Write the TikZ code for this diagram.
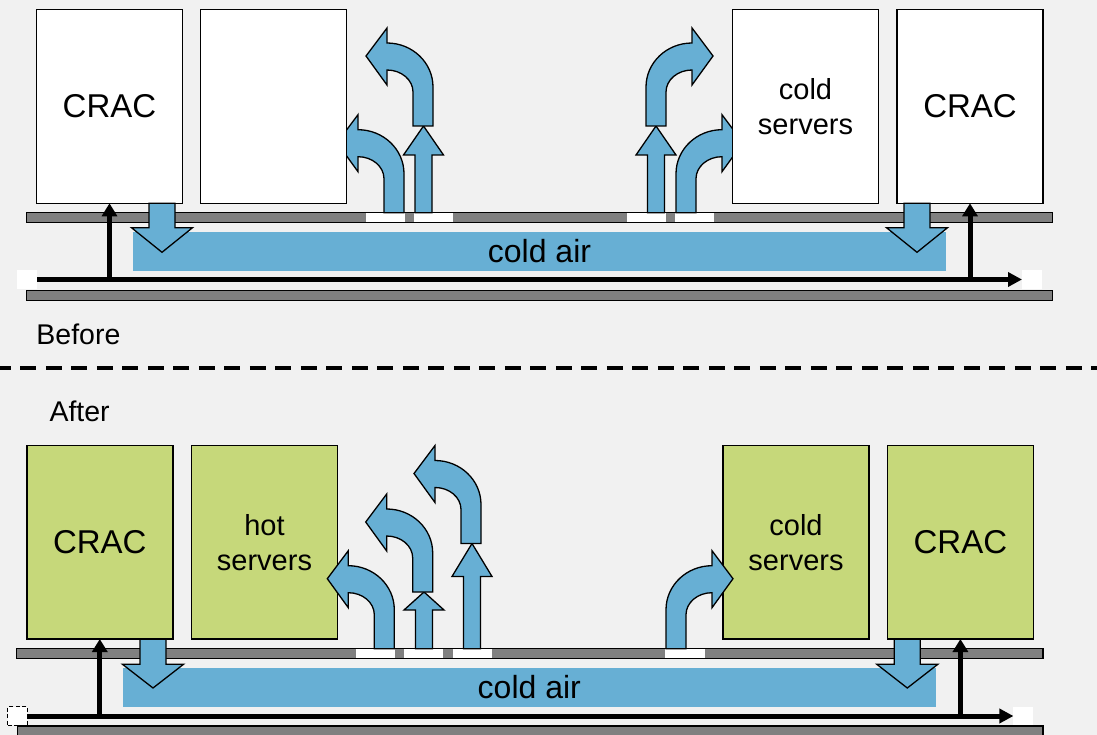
\documentclass[tikz,border=0pt]{standalone}
\usepackage{fontspec}
\setmainfont{Liberation Sans}
\usetikzlibrary{arrows.meta}
\definecolor{bgcol}{RGB}{241,241,241}
\definecolor{floorgrey}{RGB}{128,128,128}
\definecolor{airblue}{RGB}{103,175,212}
\definecolor{rackgreen}{RGB}{198,216,122}

\tikzset{
  box/.style={draw=black, line width=1.5pt, inner sep=0pt, outer sep=0pt,
    minimum width=146pt, minimum height=193.6pt, align=center},
  whitebox/.style={box, fill=white},
  greenbox/.style={box, fill=rackgreen},
  cractext/.style={font=\fontsize{33}{40}\selectfont},
  srvtext/.style={font=\fontsize{29}{35}\selectfont},
  labeltext/.style={font=\fontsize{28.5}{34}\selectfont, inner sep=0pt, anchor=base west},
  floorbar/.style={draw=black, line width=1.2pt, fill=floorgrey},
  vent/.style={fill=white},
  band/.style={fill=airblue, inner sep=0pt, outer sep=0pt,
    font=\fontsize{32}{38}\selectfont},
  blockarrow/.style={draw=black, line width=1.3pt, fill=airblue, line join=miter},
  returnline/.style={line width=5pt, -{Triangle[length=14pt,width=14pt]}},
  riser/.style={line width=5pt, -{Triangle[length=13pt,width=15pt]}},
  marker/.style={fill=white, inner sep=0pt, outer sep=0pt,
    minimum width=20pt, minimum height=19pt},
  bentarrow/.pic={
    \draw[blockarrow] (0,0) -- (20,0) -- (20,-39)
      .. controls (20,-63.3) and (-0.6,-83) .. (-26,-83)
      -- (-26,-98) -- (-47,-70) -- (-26,-41) -- (-26,-56)
      .. controls (-11.6,-56) and (0,-46.1) .. (0,-34) -- cycle;
  }
}

% up arrow: centre x, bottom y, tip y, head height
\newcommand\upblock[4]{%
  \draw[blockarrow] ({#1-8.5},#2) -- ({#1-8.5},{#3+#4}) -- ({#1-20},{#3+#4})
    -- (#1,#3) -- ({#1+20},{#3+#4}) -- ({#1+8.5},{#3+#4}) -- ({#1+8.5},#2) -- cycle;}
% down arrow: centre x, top y, head top y, tip y
\newcommand\downblock[4]{%
  \draw[blockarrow] ({#1-13},#2) -- ({#1-13},#3) -- ({#1-30.5},#3)
    -- (#1,#4) -- ({#1+30.5},#3) -- ({#1+13},#3) -- ({#1+13},#2) -- cycle;}

\begin{document}
\begin{tikzpicture}[x=1pt,y=-1pt]
\useasboundingbox (0,0) rectangle (1097,735);
\fill[bgcol] (0,0) rectangle (1097,735);
\clip (0,0) rectangle (1097,735);

% ================= BEFORE =================
\draw[floorbar] (26.3,212.7) rectangle (1052.8,222.7);
\draw[floorbar] (26.3,290.2) rectangle (1052.8,300.5);
\fill[vent] (365.5,213.4) rectangle (404.8,222.0);
\fill[vent] (413.5,213.4) rectangle (452.8,222.0);
\fill[vent] (626.6,213.4) rectangle (665.9,222.0);
\fill[vent] (674.7,213.4) rectangle (714.0,222.0);

\node[band, minimum width=813pt, minimum height=38.7pt] (air1) at (539.5,251.4) {cold air};

% blue arrows (under the racks)
\upblock{423.5}{212.7}{126}{29}
\pic at (384,212.7) {bentarrow};
\pic at (413,126) {bentarrow};
\upblock{656}{212.7}{126}{29}
\pic[xscale=-1] at (666,126) {bentarrow};
\pic[xscale=-1] at (696,212.7) {bentarrow};

\node[whitebox, cractext] (crac1) at (109.5,106.5) {CRAC};
\node[whitebox] (rack1) at (273.5,106.5) {};
\node[whitebox, srvtext] (cold1) at (805.5,106.5) {cold\\servers};
\node[whitebox, cractext] (crac2) at (970,106.5) {CRAC};

\node[marker] (lsq1) at (27,279.5) {};
\node[marker] (rsq1) at (1032,279.5) {};
\draw[returnline] (lsq1.east) -- (rsq1.west);
\draw[riser] (crac1.south |- lsq1.center) -- (crac1.south);
\draw[riser] (crac2.south |- lsq1.center) -- (crac2.south);

\downblock{162}{203.3}{227.7}{252.3}
\downblock{917}{203.3}{227.7}{252.3}

\node[labeltext] (before) at (36.2,344.3) {Before};

% separator
\draw[line width=4pt, dash pattern=on 15.8pt off 9.7pt, dash phase=5.2pt]
  (0,367.7) -- (1097,367.7);

% ================= AFTER =================
\node[labeltext] (after) at (49.3,421.7) {After};

\draw[floorbar] (16.8,648.7) rectangle (1043,658.7);
\draw[floorbar] (17.5,726) rectangle (1043,745);
\fill[vent] (355.7,649.4) rectangle (395,658.0);
\fill[vent] (404,649.4) rectangle (443.3,658.0);
\fill[vent] (452.7,649.4) rectangle (491.7,658.0);
\fill[vent] (665.2,649.4) rectangle (704.5,658.0);

\node[band, minimum width=812.6pt, minimum height=38.7pt] (air2) at (529.3,687.4) {cold air};

\node[greenbox, cractext] (crac3) at (99.8,542.2) {CRAC};
\node[greenbox, srvtext] (hot2) at (264.5,542.2) {hot\\servers};
\node[greenbox, srvtext] (cold2) at (796,542.2) {cold\\servers};
\node[greenbox, cractext] (crac4) at (960.4,542.2) {CRAC};

% blue arrows (over the racks)
\pic at (374.3,648.7) {bentarrow};
\upblock{424}{648.7}{592}{18}
\pic at (412.7,592) {bentarrow};
\upblock{472}{648.7}{543.5}{33}
\pic at (461,543.5) {bentarrow};
\pic[xscale=-1] at (686,648.7) {bentarrow};

\node[marker, draw=black, line width=1pt, dash pattern=on 4pt off 2.5pt,
  minimum width=19.5pt, minimum height=18.5pt] (lsq2) at (17.5,716) {};
\node[marker, minimum width=19.5pt, minimum height=18pt] (rsq2) at (1023.2,715.5) {};
\draw[returnline] (lsq2.east) -- (rsq2.west |- lsq2.east);
\draw[riser] (crac3.south |- lsq2.center) -- (crac3.south);
\draw[riser] (crac4.south |- lsq2.center) -- (crac4.south);

\downblock{153}{639.3}{664.3}{688}
\downblock{907.3}{639.3}{664.3}{688}
\end{tikzpicture}
\end{document}
